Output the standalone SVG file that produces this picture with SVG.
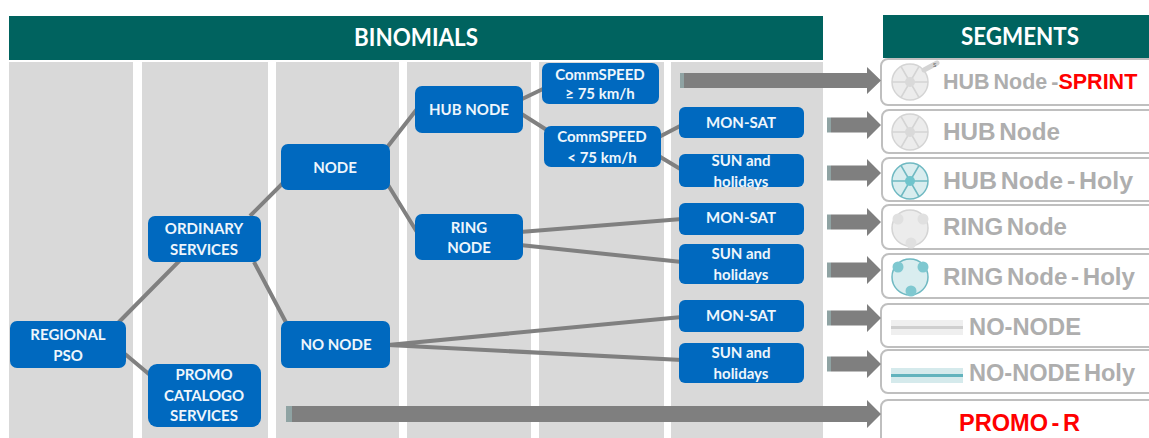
<svg xmlns="http://www.w3.org/2000/svg" width="1149" height="438" viewBox="0 0 1149 438">
<defs>
<style>
.col{fill:#d9d9d9}
.hdr{fill:#00635f}
.ht{font:700 24px Lato,"Open Sans","Liberation Sans",sans-serif;fill:#fff;text-anchor:middle}
.n{fill:#0069bf}
.nt{font:700 15px Lato,"Open Sans","Liberation Sans",sans-serif;fill:#eef6fc;text-anchor:middle}
.c{stroke:#808080;stroke-width:4;fill:none}
.seg{fill:#fff;stroke:#bfbfbf;stroke-width:2}
.st{font:700 24px "Liberation Sans",Arial,sans-serif;fill:#aeaeae;word-spacing:-3px}
.red{fill:#f00}
.ar{fill:#7f7f7f}
.art{fill:#8fa3a3}
.ico{fill:#ececec;stroke:#d4d4d4;stroke-width:1.5}
.icoh{fill:#d9edef;stroke:#6fb9c2;stroke-width:1.5}
</style>
<g id="arrow"><rect x="0" y="-7.500" width="4" height="15" class="art"/><path class="ar" d="M4-7.500H40V-14L54 0 40 14V7.500H4Z"/></g>
<g id="hub"><circle r="18" /><path d="M-18 0H18M-9-15.500L9 15.500M9-15.500L-9 15.500"/></g>
</defs>
<rect class="col" x="9" y="62" width="124" height="376"/>
<rect class="col" x="142" y="62" width="126" height="376"/>
<rect class="col" x="276" y="62" width="123" height="376"/>
<rect class="col" x="407" y="62" width="124" height="376"/>
<rect class="col" x="539" y="62" width="125" height="376"/>
<rect class="col" x="671" y="62" width="152" height="376"/>
<g id="hdr-binomials"><rect class="hdr" x="9" y="16" width="814" height="44"/><text class="ht" x="416" y="46" textLength="124" lengthAdjust="spacingAndGlyphs">BINOMIALS</text></g>
<g id="hdr-segments"><rect class="hdr" x="883" y="15" width="266" height="43"/><text class="ht" x="1020" y="45" textLength="118" lengthAdjust="spacingAndGlyphs">SEGMENTS</text></g>

<g id="connectors">
<path class="c" d="M118 323L200 240M125 354L150 375M250 216L290 176M254 262L290 330M385 150L417 109M385 180L420 237M520 100L545 88M520 113L550 132M657 138L682 125M657 155L682 170M520 232L682 219M520 245L682 262M388 345L682 317M388 345L682 360"/>
</g>

<g id="segment-hub-sprint"><rect class="seg" x="881" y="59" width="290" height="46" rx="7"/>
<g class="ico" transform="translate(910 82)"><use href="#hub"/></g><circle cx="910" cy="82" r="5" fill="#d9d9d9"/>
<path d="M924 70L937 63" stroke="#d4d4d4" stroke-width="5" stroke-linecap="round"/>
<text x="933" y="67" font-family="Liberation Sans,sans-serif" font-size="5" fill="#555">S</text>
<text class="st" x="943" y="88.500" style="font-size:21.500px;word-spacing:-2px">HUB Node -<tspan class="red">SPRINT</tspan></text></g>
<g id="segment-hub"><rect class="seg" x="882" y="110" width="290" height="43" rx="7"/>
<g class="ico" transform="translate(910 132)"><use href="#hub"/></g><circle cx="910" cy="132" r="5" fill="#d9d9d9"/>
<text class="st" x="943" y="140" textLength="117" lengthAdjust="spacingAndGlyphs">HUB Node</text></g>
<g id="segment-hub-holy"><rect class="seg" x="882" y="158" width="290" height="43" rx="7"/>
<g class="icoh" transform="translate(910 181)"><use href="#hub"/></g><circle cx="910" cy="181" r="5" fill="#6fc4cc"/>
<text class="st" x="943" y="189" textLength="190" lengthAdjust="spacingAndGlyphs">HUB Node -  Holy</text></g>
<g id="segment-ring"><rect class="seg" x="882" y="205" width="290" height="44" rx="7"/>
<circle class="ico" cx="910" cy="228" r="18"/><circle cx="898" cy="219" r="5.500" fill="#e0e0e0"/><circle cx="923" cy="219" r="5.500" fill="#e0e0e0"/><circle cx="911" cy="243" r="5.500" fill="#e0e0e0"/>
<text class="st" x="943" y="235" textLength="124" lengthAdjust="spacingAndGlyphs">RING Node</text></g>
<g id="segment-ring-holy"><rect class="seg" x="882" y="254" width="290" height="44" rx="7"/>
<circle class="icoh" cx="910" cy="277" r="18"/><circle cx="898" cy="267" r="5.500" fill="#7fc8d0"/><circle cx="923" cy="267" r="5.500" fill="#7fc8d0"/><circle cx="911" cy="291" r="5.500" fill="#7fc8d0"/>
<text class="st" x="943" y="285" textLength="192" lengthAdjust="spacingAndGlyphs">RING Node - Holy</text></g>
<g id="segment-no-node"><rect class="seg" x="881" y="304" width="290" height="43" rx="7"/>
<rect x="891" y="320" width="72" height="15" fill="#efefef"/><rect x="891" y="326" width="72" height="3" fill="#cfcfcf"/>
<text class="st" x="969" y="335" textLength="112" lengthAdjust="spacingAndGlyphs">NO-NODE</text></g>
<g id="segment-no-node-holy"><rect class="seg" x="881" y="350" width="290" height="43" rx="7"/>
<rect x="891" y="368" width="72" height="15" fill="#d5eaec"/><rect x="891" y="374" width="72" height="3" fill="#62b3bd"/>
<text class="st" x="969" y="381" textLength="166" lengthAdjust="spacingAndGlyphs">NO-NODE Holy</text></g>
<g id="segment-promo"><rect class="seg" x="881" y="400" width="290" height="60" rx="7"/>
<text class="st red" x="959" y="431" textLength="121" lengthAdjust="spacingAndGlyphs">PROMO - R</text></g>

<g id="arrows">
<rect x="680" y="73" width="4" height="15" class="art"/><path class="ar" d="M684 73H867V67L881 80.500 867 94V88H684Z"/>
<use href="#arrow" x="827" y="125"/>
<use href="#arrow" x="827" y="173"/>
<use href="#arrow" x="827" y="222"/>
<use href="#arrow" x="827" y="270"/>
<use href="#arrow" x="827" y="318"/>
<use href="#arrow" x="827" y="364"/>
<rect x="286" y="406" width="6" height="16" class="art"/><path class="ar" d="M292 406H867V400L881 414 867 428V422H292Z"/>
</g>

<g id="node-regional"><rect class="n" x="10" y="321" width="116" height="47" rx="7"/><text class="nt" x="68" y="340">REGIONAL</text><text class="nt" x="68" y="361">PSO</text></g>
<g id="node-ordinary"><rect class="n" x="148" y="216" width="113" height="46" rx="7"/><text class="nt" x="204" y="234">ORDINARY</text><text class="nt" x="204" y="255">SERVICES</text></g>
<g id="node-promo"><rect class="n" x="148" y="364" width="113" height="63" rx="9"/><text class="nt" x="204" y="380">PROMO</text><text class="nt" x="204" y="401">CATALOGO</text><text class="nt" x="204" y="421">SERVICES</text></g>
<g id="node-node"><rect class="n" x="281" y="144" width="109" height="46" rx="7"/><text class="nt" x="335" y="173">NODE</text></g>
<g id="node-no-node"><rect class="n" x="281" y="321" width="109" height="47" rx="7"/><text class="nt" x="336" y="350">NO NODE</text></g>
<g id="node-hub"><rect class="n" x="415" y="86" width="108" height="47" rx="7"/><text class="nt" x="469" y="115">HUB NODE</text></g>
<g id="node-ring"><rect class="n" x="415" y="214" width="108" height="46" rx="7"/><text class="nt" x="469" y="233">RING</text><text class="nt" x="469" y="253">NODE</text></g>
<g id="node-speed-high"><rect class="n" x="542" y="63" width="117" height="41" rx="7"/><text class="nt" x="600" y="80">CommSPEED</text><text class="nt" x="600" y="99">≥ 75 km/h</text></g>
<g id="node-speed-low"><rect class="n" x="544" y="126" width="117" height="41" rx="7"/><text class="nt" x="602" y="142">CommSPEED</text><text class="nt" x="602" y="163">&lt; 75 km/h</text></g>
<g id="node-monsat-1"><rect class="n" x="679" y="107" width="125" height="31" rx="6"/><text class="nt" x="741" y="128">MON-SAT</text></g>
<g id="node-sun-1"><rect class="n" x="679" y="154" width="125" height="33" rx="6"/><text class="nt" x="741" y="166">SUN and</text><text class="nt" x="741" y="187">holidays</text></g>
<g id="node-monsat-2"><rect class="n" x="679" y="203" width="125" height="32" rx="6"/><text class="nt" x="741" y="223">MON-SAT</text></g>
<g id="node-sun-2"><rect class="n" x="679" y="244" width="125" height="40" rx="6"/><text class="nt" x="741" y="259">SUN and</text><text class="nt" x="741" y="280">holidays</text></g>
<g id="node-monsat-3"><rect class="n" x="679" y="300" width="125" height="32" rx="6"/><text class="nt" x="741" y="321">MON-SAT</text></g>
<g id="node-sun-3"><rect class="n" x="679" y="343" width="125" height="40" rx="6"/><text class="nt" x="741" y="358">SUN and</text><text class="nt" x="741" y="379">holidays</text></g>
</svg>
